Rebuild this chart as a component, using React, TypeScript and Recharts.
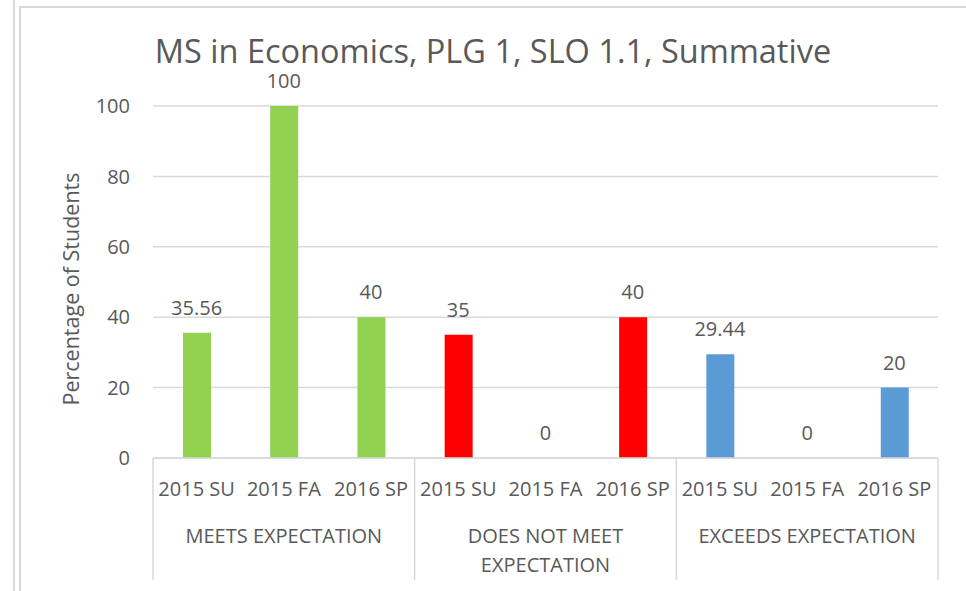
import React from "react";
import { ComposedChart, Bar, Line, XAxis, YAxis, CartesianGrid, Cell, LabelList } from "recharts";

const periods = ["2015 SU", "2015 FA", "2016 SP"];
const groups = ["MEETS EXPECTATION", "DOES NOT MEET EXPECTATION", "EXCEEDS EXPECTATION"];
const groupLabelLines = [["MEETS EXPECTATION"], ["DOES NOT MEET", "EXPECTATION"], ["EXCEEDS EXPECTATION"]];
const meetsValues = [35.56, 100, 40];
const doesNotMeetValues = [35, 0, 40];
const exceedsValues = [29.44, 0, 20];
const groupColors = ["#92D050", "#FF0000", "#5B9BD5"];
const yTicks = [0, 20, 40, 60, 80, 100];
const title = "MS in Economics, PLG 1, SLO 1.1, Summative";
const yLabel = "Percentage of Students";

const groupValues = [meetsValues, doesNotMeetValues, exceedsValues];

const rows = groups.flatMap((g, gi) =>
  periods.map((p, pi) => ({
    key: `${g}|${p}`,
    period: p,
    group: g,
    groupIndex: gi,
    periodIndex: pi,
    value: groupValues[gi][pi],
  }))
);

const FONT = "'Open Sans', sans-serif";
const TEXT = "#595959";
const LINE = "#d9d9d9";

const W = 966;
const H = 591;
const M = { top: 106, right: 28, bottom: 13, left: 60 };
const Y_W = 93;
const PLOT_W = W - M.left - M.right - Y_W;
const HALF_BAND = PLOT_W / rows.length / 2;
const SEP_LEN = 122;

const CategoryTick = (props: any) => {
  const { x, y, payload } = props;
  const row = rows[payload.index];
  if (!row) return null;
  const n = periods.length;
  const lines = groupLabelLines[row.groupIndex];
  return (
    <g>
      <text
        x={x}
        y={y + 30}
        textAnchor="middle"
        dominantBaseline="central"
        fill={TEXT}
        style={{ fontSize: 20, fontFamily: FONT }}
      >
        {row.period}
      </text>
      {row.periodIndex === 0 && (
        <line x1={x - HALF_BAND} x2={x - HALF_BAND} y1={y} y2={y + SEP_LEN} stroke={LINE} strokeWidth={1.5} />
      )}
      {payload.index === rows.length - 1 && (
        <line x1={x + HALF_BAND} x2={x + HALF_BAND} y1={y} y2={y + SEP_LEN} stroke={LINE} strokeWidth={1.5} />
      )}
      {row.periodIndex === Math.floor(n / 2) &&
        lines.map((ln, i) => (
          <text
            key={i}
            x={x}
            y={y + 77 + i * 29}
            textAnchor="middle"
            dominantBaseline="central"
            fill={TEXT}
            style={{ fontSize: 20, fontFamily: FONT }}
          >
            {ln}
          </text>
        ))}
    </g>
  );
};

const YLabel = (props: any) => {
  const vb = props.viewBox;
  const cx = vb.x + 10;
  const cy = vb.y + vb.height / 2 + 7;
  return (
    <text
      x={cx}
      y={cy}
      transform={`rotate(-90 ${cx} ${cy})`}
      textAnchor="middle"
      dominantBaseline="central"
      fill={TEXT}
      style={{ fontSize: 21.5, fontFamily: FONT }}
    >
      {yLabel}
    </text>
  );
};

export default function App() {
  return (
    <div style={{ position: "absolute", left: 0, top: 0, width: W, height: H, background: "#fff", overflow: "hidden" }}>
      <div style={{ position: "absolute", left: 13, top: 0, width: 1.5, height: H, background: "#dcdcdc" }} />
      <div
        style={{
          position: "absolute",
          left: 19,
          top: 6,
          width: W,
          height: H,
          borderLeft: `2px solid ${LINE}`,
          borderTop: `2px solid ${LINE}`,
        }}
      />
      <svg style={{ position: "absolute", left: 0, top: 0 }} width={W} height={80}>
        <text x={493} y={63} textAnchor="middle" fill={TEXT} style={{ fontSize: 32.5, fontFamily: FONT }}>
          {title}
        </text>
      </svg>
      <div style={{ position: "absolute", left: 0, top: 0 }}>
        <ComposedChart width={W} height={H} data={rows} margin={M} barSize={28}>
          <CartesianGrid vertical={false} stroke={LINE} strokeWidth={1.5} />
          <YAxis
            width={Y_W}
            domain={[0, 100]}
            ticks={yTicks}
            axisLine={false}
            tickLine={false}
            tickSize={0}
            tickMargin={23}
            tick={{ fill: TEXT, fontSize: 20, fontFamily: FONT }}
            label={<YLabel />}
          />
          <XAxis
            dataKey="key"
            interval={0}
            height={120}
            tickLine={false}
            tickSize={0}
            tickMargin={0}
            axisLine={{ stroke: LINE, strokeWidth: 1.5 }}
            tick={<CategoryTick />}
          />
          <Bar dataKey="value" isAnimationActive={false}>
            {rows.map((r) => (
              <Cell key={r.key} fill={groupColors[r.groupIndex]} />
            ))}
          </Bar>
          <Line
            dataKey="value"
            stroke="none"
            dot={false}
            activeDot={false}
            legendType="none"
            isAnimationActive={false}
          >
            <LabelList
              dataKey="value"
              position="top"
              offset={18}
              fill={TEXT}
              style={{ fontSize: 20, fontFamily: FONT }}
            />
          </Line>
        </ComposedChart>
      </div>
    </div>
  );
}
